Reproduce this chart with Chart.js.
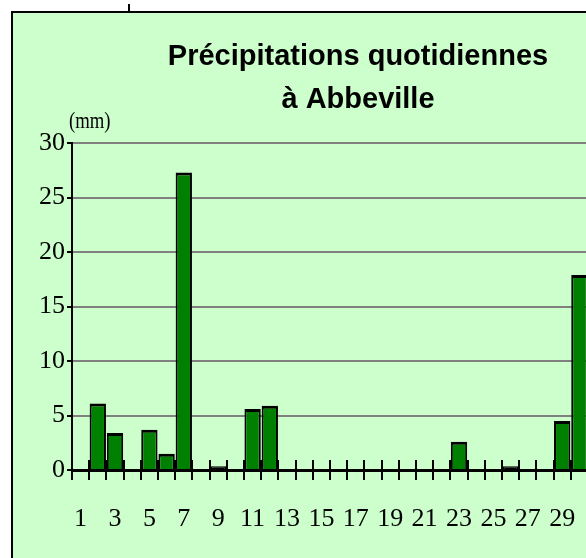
<!DOCTYPE html>
<html>
<head>
<meta charset="utf-8">
<script src="https://cdn.jsdelivr.net/npm/chart.js@4"></script>
<style>
    html, body { margin: 0; padding: 0; background: #fff; overflow: hidden; }
    body { width: 586px; height: 558px; position: relative; }
    #frame {
        position: absolute; left: 11px; top: 11px; width: 700px; height: 600px;
        border-top: 2px solid #000; border-left: 2px solid #000; background: #ccffcc;
    }
    #notch { position: absolute; left: 128px; top: 4px; width: 2px; height: 8px; background: #000; }
    #box { position: absolute; left: 13px; top: 14px; width: 690px; height: 544px; }
</style>
</head>
<body>
<div id="frame"></div>
<div id="notch"></div>
<div id="box"><canvas id="chart"></canvas></div>
<script>
// Daily rainfall, Abbeville (mm)
const days = ['1', '2', '3', '4', '5', '6', '7', '8', '9', '10',
              '11', '12', '13', '14', '15', '16', '17', '18', '19', '20',
              '21', '22', '23', '24', '25', '26', '27', '28', '29', '30'];
const rain = [0, 6.1, 3.4, 0, 3.7, 1.5, 27.3, 0, 0.35, 0,
              5.6, 5.9, 0, 0, 0, 0, 0, 0, 0, 0,
              0, 0, 2.6, 0, 0, 0.35, 0, 0, 4.5, 17.9];
const yTicks = [0, 5, 10, 15, 20, 25, 30];
const titleLines = ['Précipitations quotidiennes', 'à Abbeville'];
const unitLabel = '(mm)';

const serif = 'Liberation Serif, Times New Roman, serif';

// title (centred on the whole chart frame, not the plot), unit label,
// and tick marks crossing the x axis at category boundaries
const decor = {
    id: 'decor',
    afterDraw(chart) {
        const { ctx, chartArea } = chart;
        const x = chart.scales.x;
        const step = x.getPixelForValue(1) - x.getPixelForValue(0);
        ctx.save();
        ctx.strokeStyle = '#000';
        ctx.lineWidth = 2;
        for (let i = 0; i <= days.length; i++) {
            const px = Math.round(x.getPixelForValue(i) - step / 2);
            ctx.beginPath();
            ctx.moveTo(px, chartArea.bottom - 10);
            ctx.lineTo(px, chartArea.bottom + 10);
            ctx.stroke();
        }

        ctx.fillStyle = '#000';
        ctx.font = 'bold 29px Liberation Sans, Arial, sans-serif';
        ctx.textAlign = 'center';
        ctx.textBaseline = 'alphabetic';
        ctx.fillText(titleLines[0], chart.width / 2, chartArea.top - 78);
        ctx.fillText(titleLines[1], chart.width / 2, chartArea.top - 35);

        ctx.translate(chartArea.left - 3, chartArea.top - 9);
        ctx.scale(0.78, 1);
        ctx.font = '24px ' + serif;
        ctx.textAlign = 'left';
        ctx.textBaseline = 'bottom';
        ctx.fillText(unitLabel, 0, 0);
        ctx.restore();
    }
};

new Chart(document.getElementById('chart'), {
    type: 'bar',
    data: {
        labels: days,
        datasets: [{
            data: rain,
            // very thin bars are all border in the original
            backgroundColor: c => (c.raw < 0.5 ? '#000' : '#008000'),
            borderColor: '#000',
            borderWidth: { top: 3, left: 2, right: 2, bottom: 0 },
            borderSkipped: false,
            categoryPercentage: 1,
            barPercentage: 0.95
        }]
    },
    options: {
        responsive: true,
        maintainAspectRatio: false,
        animation: false,
        layout: { padding: { left: 0, right: 115, top: 129, bottom: 0 } },
        plugins: {
            legend: { display: false },
            tooltip: { enabled: false },
            title: { display: false }
        },
        scales: {
            x: {
                grid: { display: false },
                border: { display: true, color: '#000', width: 3 },
                ticks: {
                    color: '#000',
                    font: { family: serif, size: 26 },
                    padding: 26,
                    autoSkip: false,
                    maxRotation: 0,
                    callback: (v, i) => (i % 2 === 0 ? days[i] : '')
                },
                afterFit: s => { s.height = 88; }
            },
            y: {
                min: 0,
                max: 30,
                afterBuildTicks: s => { s.ticks = yTicks.map(v => ({ value: v })); },
                grid: {
                    color: ctx => (ctx.tick && ctx.tick.value === 0 ? 'rgba(0,0,0,0)' : '#808080'),
                    lineWidth: 2,
                    tickColor: '#000',
                    tickLength: 5
                },
                border: { display: true, color: '#000', width: 2 },
                ticks: {
                    color: '#000',
                    font: { family: serif, size: 26 },
                    padding: 2
                },
                afterFit: s => { s.width = 59; }
            }
        }
    },
    plugins: [decor]
});
</script>
</body>
</html>
